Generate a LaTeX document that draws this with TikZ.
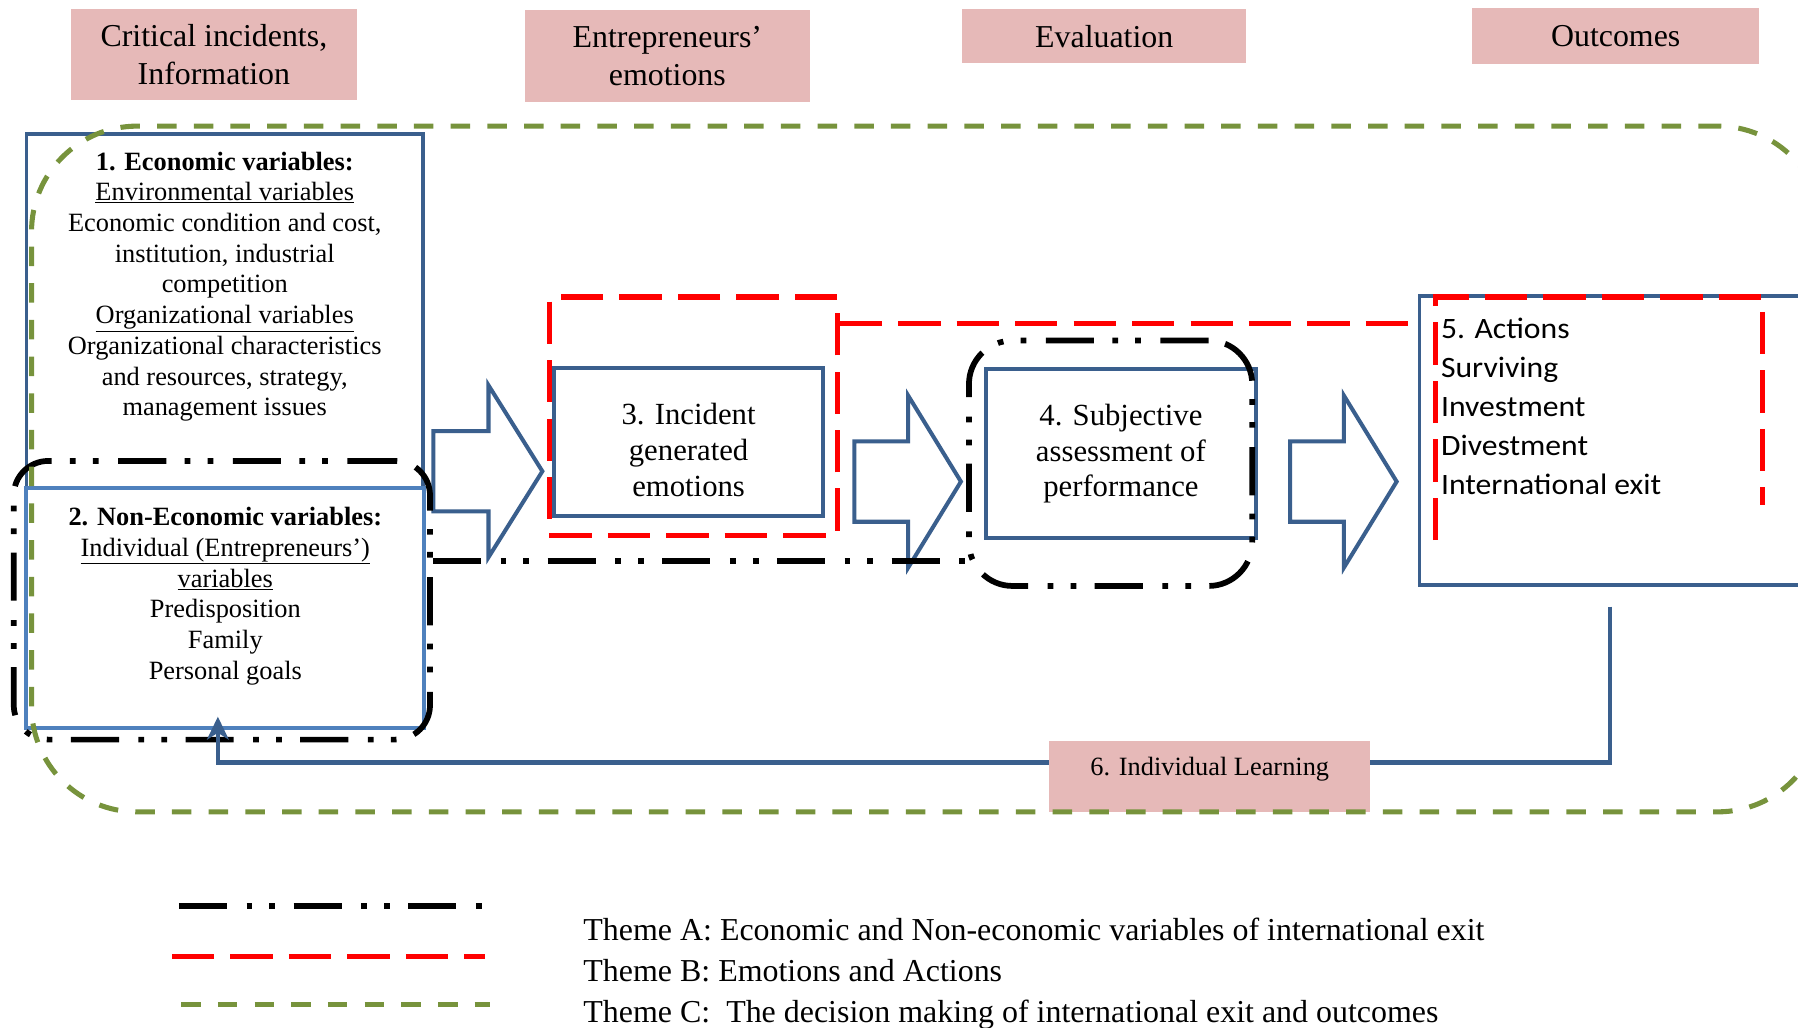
\documentclass[tikz,border=0pt]{standalone}
\usepackage{fontspec}
\setmainfont{Liberation Serif}
\newfontfamily\calib[FakeStretch=1.07]{Carlito}
\usetikzlibrary{arrows.meta,calc}
\definecolor{pinkbg}{HTML}{E6B9B8}
\definecolor{dblue}{HTML}{3A5F8D}
\definecolor{lblue}{HTML}{4F81BD}
\definecolor{olive}{HTML}{77933C}
\definecolor{rred}{HTML}{FF0000}
\tikzset{
  headbox/.style={fill=pinkbg, draw=none, inner sep=0pt, align=center,
    font=\fontsize{27.8}{32.6}\selectfont},
  bluebox/.style={draw=dblue, line width=3pt, inner sep=0pt},
  lbluebox/.style={draw=lblue, line width=3.5pt, inner sep=0pt},
  txt/.style={inner sep=0pt, align=center},
  smalltxt/.style={txt, font=\fontsize{23}{26.8}\selectfont},
  bigtxt/.style={txt, font=\fontsize{26.8}{31.3}\selectfont},
  themeA/.style={draw=black, line width=5pt,
    dash pattern=on 42pt off 17pt on 5pt off 15pt on 5pt off 16pt},
  themeB/.style={draw=rred, line width=4.4pt, dash pattern=on 37pt off 14pt},
  themeC/.style={draw=olive, line width=4.4pt, dash pattern=on 17pt off 15pt},
  blockarrow/.style={draw=dblue, line width=3.5pt, fill=white, line join=miter},
  fbline/.style={draw=dblue, line width=3.8pt},
  legendtxt/.style={inner sep=0pt, anchor=base west, font=\fontsize{27.85}{32}\selectfont}
}
\begin{document}
\begin{tikzpicture}[x=1pt,y=-1pt]
\useasboundingbox (0,0) rectangle (1568,896);
\clip (0,0) rectangle (1568,896);

% heading boxes
\node[headbox, minimum width=249pt, minimum height=79pt] (h1) at (186.5,47.5) {Critical incidents,\\Information};
\node[headbox, minimum width=248pt, minimum height=80pt] (h2) at (582,49) {Entrepreneurs’\\emotions};
\node[headbox, minimum width=248pt, minimum height=47pt] (h3) at (963,31.5) {Evaluation};
\node[headbox, minimum width=250pt, minimum height=49pt] (h4) at (1409,31.5) {Outcomes};

% box 1 and 2
\node[bluebox, minimum width=346pt, minimum height=310pt] (b1) at (196,272) {};
\node[smalltxt] (t1) at (196,250) {\textbf{1. Economic variables:}\\\underline{Environmental variables}\\Economic condition and cost,\\institution, industrial\\competition\\\underline{Organizational variables}\\Organizational characteristics\\and resources, strategy,\\management issues};
\node[lbluebox, fill=white, minimum width=347pt, minimum height=209pt] (b2) at (196.5,530.5) {};
\node[smalltxt] (t2) at (196.5,520) {\textbf{2. Non-Economic variables:}\\\underline{Individual (Entrepreneurs’)}\\\underline{variables}\\Predisposition\\Family\\Personal goals};

% block arrows
\draw[blockarrow] (378,376) -- (426,376) -- (426,336) -- (473,411) -- (426,486) -- (426,446) -- (378,446) -- cycle;
\draw[blockarrow] (745,385) -- (792,385) -- (792,345) -- (838,420) -- (792,495) -- (792,455) -- (745,455) -- cycle;
\draw[blockarrow] (1125,385) -- (1172,385) -- (1172,345) -- (1218,420) -- (1172,495) -- (1172,455) -- (1125,455) -- cycle;

% box 3
\node[bluebox, line width=3.5pt, minimum width=235pt, minimum height=129pt] (b3) at (600.5,385.5) {};
\node[bigtxt] (t3) at (600.5,392.7) {3. Incident\\generated\\emotions};

% box 4
\node[bluebox, line width=3.5pt, minimum width=235pt, minimum height=147pt] (b4) at (977.5,395.5) {};
\node[bigtxt] (t4) at (977.5,395.6) {4. Subjective\\assessment of\\performance};

% box 5
\node[bluebox, minimum width=362pt, minimum height=252pt] (b5) at (1419,384) {};
\node[inner sep=0pt, anchor=west, align=left, font=\calib\fontsize{25.8}{34}\selectfont] (t5) at (1256.5,354.5) {5. Actions\\Surviving\\Investment\\Divestment\\International exit};

% theme A (black dash-dot)
\node[themeA, rounded corners=30pt, minimum width=363pt, minimum height=243pt, inner sep=0pt] (a2) at (193.5,523.5) {};
\node[themeA, rounded corners=38pt, minimum width=247pt, minimum height=214pt, inner sep=0pt] (a4) at (968.5,404) {};
\draw[themeA] ([yshift=34.5pt]a2.east) -- ([yshift=34.5pt]a2.east -| a4.west);

% theme B (red dashed)
\node[themeB, minimum width=251pt, minimum height=208pt, inner sep=0pt] (r3) at (604.5,363) {};
\draw[themeB] ([yshift=-25pt]r3.north east) -- ([yshift=-25pt]r3.north east -| b5.west);
\coordinate (r5a) at (1252,471);
\coordinate (r5b) at (1537,259);
\coordinate (r5c) at (1537,440);
\draw[themeB] (r5a) |- (r5b) -- (r5c);

% feedback (individual learning)
\coordinate (fbs) at (1404,529);
\coordinate (fbc) at (190,665);
\coordinate (fbe) at (190,625);
\draw[fbline, -{Stealth[length=20pt,width=19pt,inset=6pt]}] (fbs) |- (fbc) -- (fbe);
\node[fill=pinkbg, inner sep=0pt, minimum width=280pt, minimum height=62pt] (lk) at (1055,677) {};
\node[txt, font=\fontsize{23}{27}\selectfont] (lkt) at (1055,670.5) {6. Individual Learning};

% theme C (green dashed)
\node[themeC, rounded corners=92pt, minimum width=1562.5pt, minimum height=598pt, inner sep=0pt] (g) at (808.75,409) {};

% legend
\coordinate (la1) at (156,790); \coordinate (la2) at (421,790);
\coordinate (lb1) at (150,834); \coordinate (lb2) at (423,834);
\coordinate (lc1) at (158,876); \coordinate (lc2) at (427,876);
\draw[themeA] (la1) -- (la2);
\draw[themeB] (lb1) -- (lb2);
\draw[themeC] (lc1) -- (lc2);
\node[legendtxt] (lta) at (508.6,820) {Theme A: Economic and Non-economic variables of international exit};
\node[legendtxt] (ltb) at (508.6,856) {Theme B: Emotions and Actions};
\node[legendtxt] (ltc) at (508.6,892) {Theme C:~ The decision making of international exit and outcomes};
\end{tikzpicture}
\end{document}
